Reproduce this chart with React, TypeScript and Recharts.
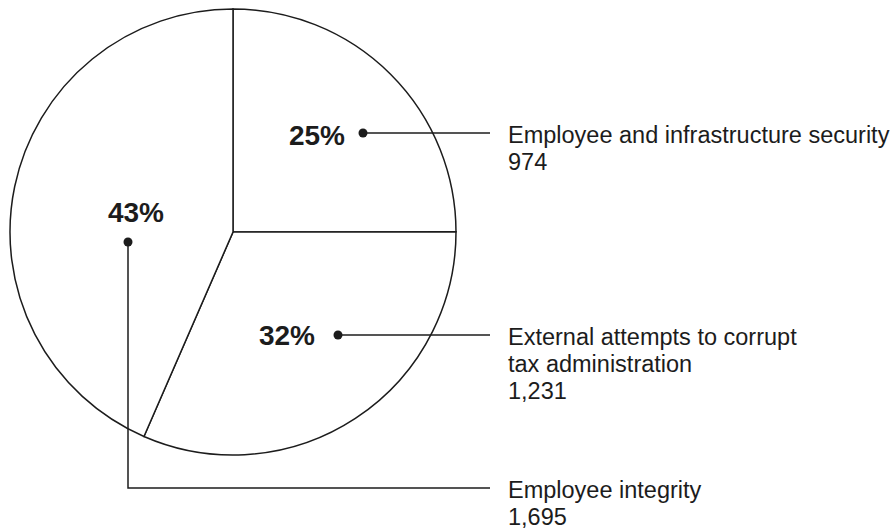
import { Pie, PieChart } from "recharts";

// slices, clockwise from 12 o'clock
const categories = [
  "Employee and infrastructure security",
  "External attempts to corrupt tax administration",
  "Employee integrity",
];
const counts = [974, 1231, 1695];
// how each category name wraps in its callout
const categoryLines = [
  ["Employee and infrastructure security"],
  ["External attempts to corrupt", "tax administration"],
  ["Employee integrity"],
];

const data = categories.map((name, i) => ({ name, value: counts[i] }));

const INK = "#1c1c1c";
const FONT = "'Liberation Sans', Arial, Helvetica, sans-serif";

// callout geometry, offsets from the pie centre
const callouts = [
  { dot: [130, -99], pct: [112, -97], pctAnchor: "end", elbow: null },
  { dot: [105, 103], pct: [82, 103], pctAnchor: "end", elbow: null },
  { dot: [-105, 10], pct: [-97, -20], pctAnchor: "middle", elbow: 256 },
];
const LINE_END = 257;
const TEXT_X = 275;
const LINE_GAP = 27;

function renderCallout(props: any) {
  const { cx, cy, index, percent, value } = props;
  const c = callouts[index];
  const dx = cx + c.dot[0];
  const dy = cy + c.dot[1];
  const lineY = c.elbow == null ? dy : cy + c.elbow;
  const path =
    c.elbow == null
      ? `M${dx},${dy} H${cx + LINE_END}`
      : `M${dx},${dy} V${lineY} H${cx + LINE_END}`;
  const lines = [...categoryLines[index], value.toLocaleString("en-US")];
  return (
    <g key={`callout-${index}`}>
      <text
        x={cx + c.pct[0]}
        y={cy + c.pct[1] + 10}
        textAnchor={c.pctAnchor}
        fontFamily={FONT}
        fontWeight="bold"
        fontSize={28}
        fill={INK}
      >
        {`${Math.round(percent * 100)}%`}
      </text>
      <circle cx={dx} cy={dy} r={4.5} fill={INK} />
      <path d={path} stroke={INK} strokeWidth={1.5} fill="none" />
      {lines.map((line, i) => (
        <text
          key={i}
          x={cx + TEXT_X}
          y={lineY + 10 + i * LINE_GAP}
          fontFamily={FONT}
          fontSize={23.5}
          fill={INK}
        >
          {line}
        </text>
      ))}
    </g>
  );
}

export default function App() {
  return (
    <div style={{ position: "absolute", left: 0, top: 0 }}>
      <PieChart
        width={895}
        height={529}
        margin={{ top: 0, right: 0, bottom: 0, left: 0 }}
      >
        <Pie
          data={data}
          dataKey="value"
          nameKey="name"
          cx={233}
          cy={232}
          outerRadius={223}
          startAngle={90}
          endAngle={-270}
          fill="#ffffff"
          stroke={INK}
          strokeWidth={1.5}
          label={renderCallout}
          labelLine={false}
          isAnimationActive={false}
        />
      </PieChart>
    </div>
  );
}
